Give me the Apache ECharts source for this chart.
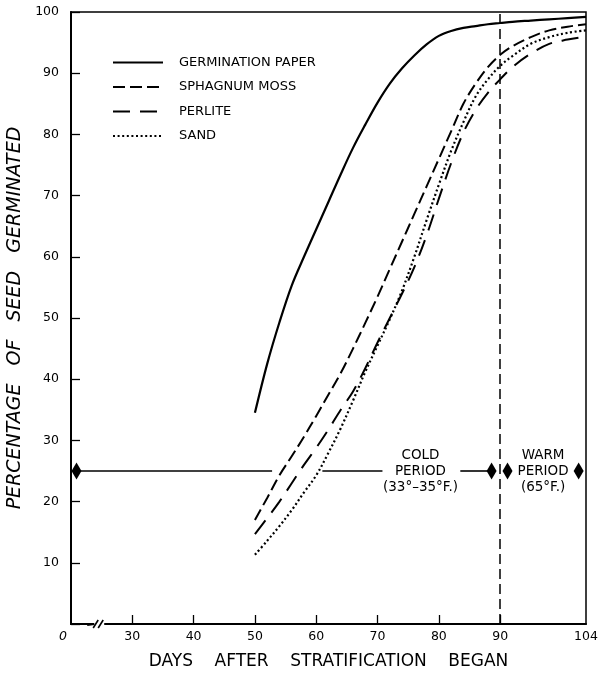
<!DOCTYPE html>
<html><head><meta charset="utf-8">
<script src="https://cdn.jsdelivr.net/npm/echarts@6/dist/echarts.min.js"></script>
<style>html,body{margin:0;padding:0;background:#fff}#c{width:612px;height:673px}</style>
</head><body><div id="c"></div>
<script>
// ---- data ----
const days = [50,52,54,56,58,60,62,64,66,68,70,72,74,76,78,80,82,84,86,88,90,92,95,98,101,104];
const germinationPaper = [34.5,42.5,49.3,55.3,60,64.5,69,73.5,77.8,81.6,85.2,88.3,90.8,92.9,94.7,96.1,96.9,97.4,97.7,98,98.2,98.4,98.6,98.8,99,99.2];
const sphagnumMoss = [17,20.6,24.3,27.4,30.6,34,37.5,41,45,49.2,53.5,58,62.5,67,71.5,76,80.5,85,88.3,91,93,94.4,95.9,97,97.6,98];
const perlite = [14.7,17.3,20,23,26,28.8,31.8,35,38,41.8,46,50,54,58.3,63.5,69.5,75.3,80.3,84,86.8,89,91,93.2,94.8,95.5,96];
const sand = [11.3,13.6,16,18.6,21.5,24.3,28,32,36.5,41.2,45.5,49.8,54.5,60,66,71.8,77.3,82,86.2,89,91.2,92.8,94.8,95.9,96.6,97];
const seriesNames = ['GERMINATION PAPER','SPHAGNUM MOSS','PERLITE','SAND'];
const xTickValues = [30,40,50,60,70,80,90];
const xLabelValues = [20,30,40,50,60,70,80,90,104];
const yTickLabels = ['10','20','30','40','50','60','70','80','90','100'];
const periodDivider = 90;
const periodLevel = 25;
const coldSegments = [[20.9,52.8],[61,70.8],[83.5,88.6]];
const arrowHeads = [20.9,88.6,91.2,102.8];
const periodTexts = [[77,'COLD\nPERIOD\n(33°–35°F.)'],[97,'WARM\nPERIOD\n(65°F.)']];
const xTitle = 'DAYS    AFTER    STRATIFICATION    BEGAN';
const yTitle = 'PERCENTAGE   OF   SEED   GERMINATED';

const FONT = 'DejaVu Sans';
const chart = echarts.init(document.getElementById('c'), null, {renderer:'canvas'});
function pts(arr){ return days.map((d,i)=>[d,arr[i]]); }
const styles = [
  {type:'solid', width:2.2},
  {type:[12,5], width:2},
  {type:[17,10], width:2},
  {type:[2,2.6], width:2.2}
];
const dataSets = [germinationPaper, sphagnumMoss, perlite, sand];
const series = dataSets.map((arr,i)=>({
  name: seriesNames[i], type:'line', data: pts(arr), symbol:'none', smooth:0.35,
  lineStyle: Object.assign({color:'#000'}, styles[i]), itemStyle:{color:'#000'},
  z: 3
}));
series.push({
  name:'annot', type:'line', data:[], symbol:'none',
  markLine:{
    silent:true, symbol:['none','none'], label:{show:false},
    data: [
      [{coord:[periodDivider,0], lineStyle:{type:[10,5], width:1.5, color:'#000'}},{coord:[periodDivider,100]}]
    ].concat(coldSegments.map(s=>[{coord:[s[0],periodLevel], lineStyle:{type:'solid', width:1.6, color:'#000'}},{coord:[s[1],periodLevel]}]))
  }
});
series.push({
  name:'arrows', type:'scatter', data: arrowHeads.map(x=>[x,periodLevel]),
  symbol:'diamond', symbolSize:[10,17], itemStyle:{color:'#000', opacity:1}, z:5
});
series.push({
  name:'texts', type:'scatter', data: periodTexts.map(t=>({value:[t[0],periodLevel], name:t[1]})),
  symbol:'rect', symbolSize:1, itemStyle:{color:'#fff', opacity:1}, z:6,
  label:{show:true, position:'inside', formatter:p=>p.name, fontFamily:FONT, fontSize:13.5, lineHeight:16,
    color:'#000', opacity:1, textBorderWidth:0, align:'center', verticalAlign:'middle'}
});

chart.setOption({
  animation:false,
  backgroundColor:'#fff',
  grid:{left:71, right:26, top:12, bottom:49, show:true, borderColor:'#000', borderWidth:1.5,
    outerBoundsMode:'none', containLabel:false},
  legend:{
    data: seriesNames, orient:'vertical', left:107, top:51, itemWidth:50, itemHeight:10, itemGap:11.5,
    itemStyle:{opacity:0},
    textStyle:{fontFamily:FONT, fontSize:13, color:'#000', padding:[0,0,0,11]},
    inactiveColor:'#000'
  },
  xAxis:{
    type:'value', min:20, max:104,
    name: xTitle, nameLocation:'middle', nameGap:29,
    nameTextStyle:{fontFamily:FONT, fontSize:17, color:'#000'},
    axisLine:{show:true, lineStyle:{color:'#000', width:2}},
    axisTick:{show:true, inside:true, length:9, customValues:xTickValues, lineStyle:{color:'#000', width:1.3}},
    axisLabel:{show:true, customValues:xLabelValues, margin:6, fontFamily:FONT, fontSize:12.5, color:'#000',
      formatter:v=> v===20 ? '{o|0}' : String(v),
      rich:{o:{fontFamily:FONT, fontSize:12.5, fontStyle:'italic', color:'#000', padding:[0,16,0,0]}}},
    splitLine:{show:false}
  },
  yAxis:{
    type:'value', min:0, max:100, interval:10,
    name: yTitle, nameLocation:'middle', nameGap:27,
    nameTextStyle:{fontFamily:FONT, fontSize:19, fontStyle:'italic', color:'#000'},
    axisLine:{show:true, lineStyle:{color:'#000', width:2}},
    axisTick:{show:true, inside:true, length:9, lineStyle:{color:'#000', width:1.3}},
    axisLabel:{margin:12, fontFamily:FONT, fontSize:12.5, color:'#000',
      formatter:v=>{ const s=String(v); return yTickLabels.indexOf(s)>=0 ? s : ''; }},
    splitLine:{show:false}
  },
  series: series
});

// axis break mark
const b = chart.convertToPixel({gridIndex:0},[24.6,0]);
chart.setOption({graphic:[
  {type:'rect', shape:{x:b[0]-5, y:b[1]-4, width:10, height:8}, style:{fill:'#fff'}, z:100},
  {type:'line', shape:{x1:b[0]-6, y1:b[1]+4, x2:b[0]-1, y2:b[1]-4}, style:{stroke:'#000', lineWidth:1.6}, z:101},
  {type:'line', shape:{x1:b[0]-1, y1:b[1]+4, x2:b[0]+4, y2:b[1]-4}, style:{stroke:'#000', lineWidth:1.6}, z:101},
  {type:'line', shape:{x1:b[0]-12, y1:b[1]+1, x2:b[0]-5, y2:b[1]}, style:{stroke:'#000', lineWidth:2}, z:101}
]});
</script></body></html>
